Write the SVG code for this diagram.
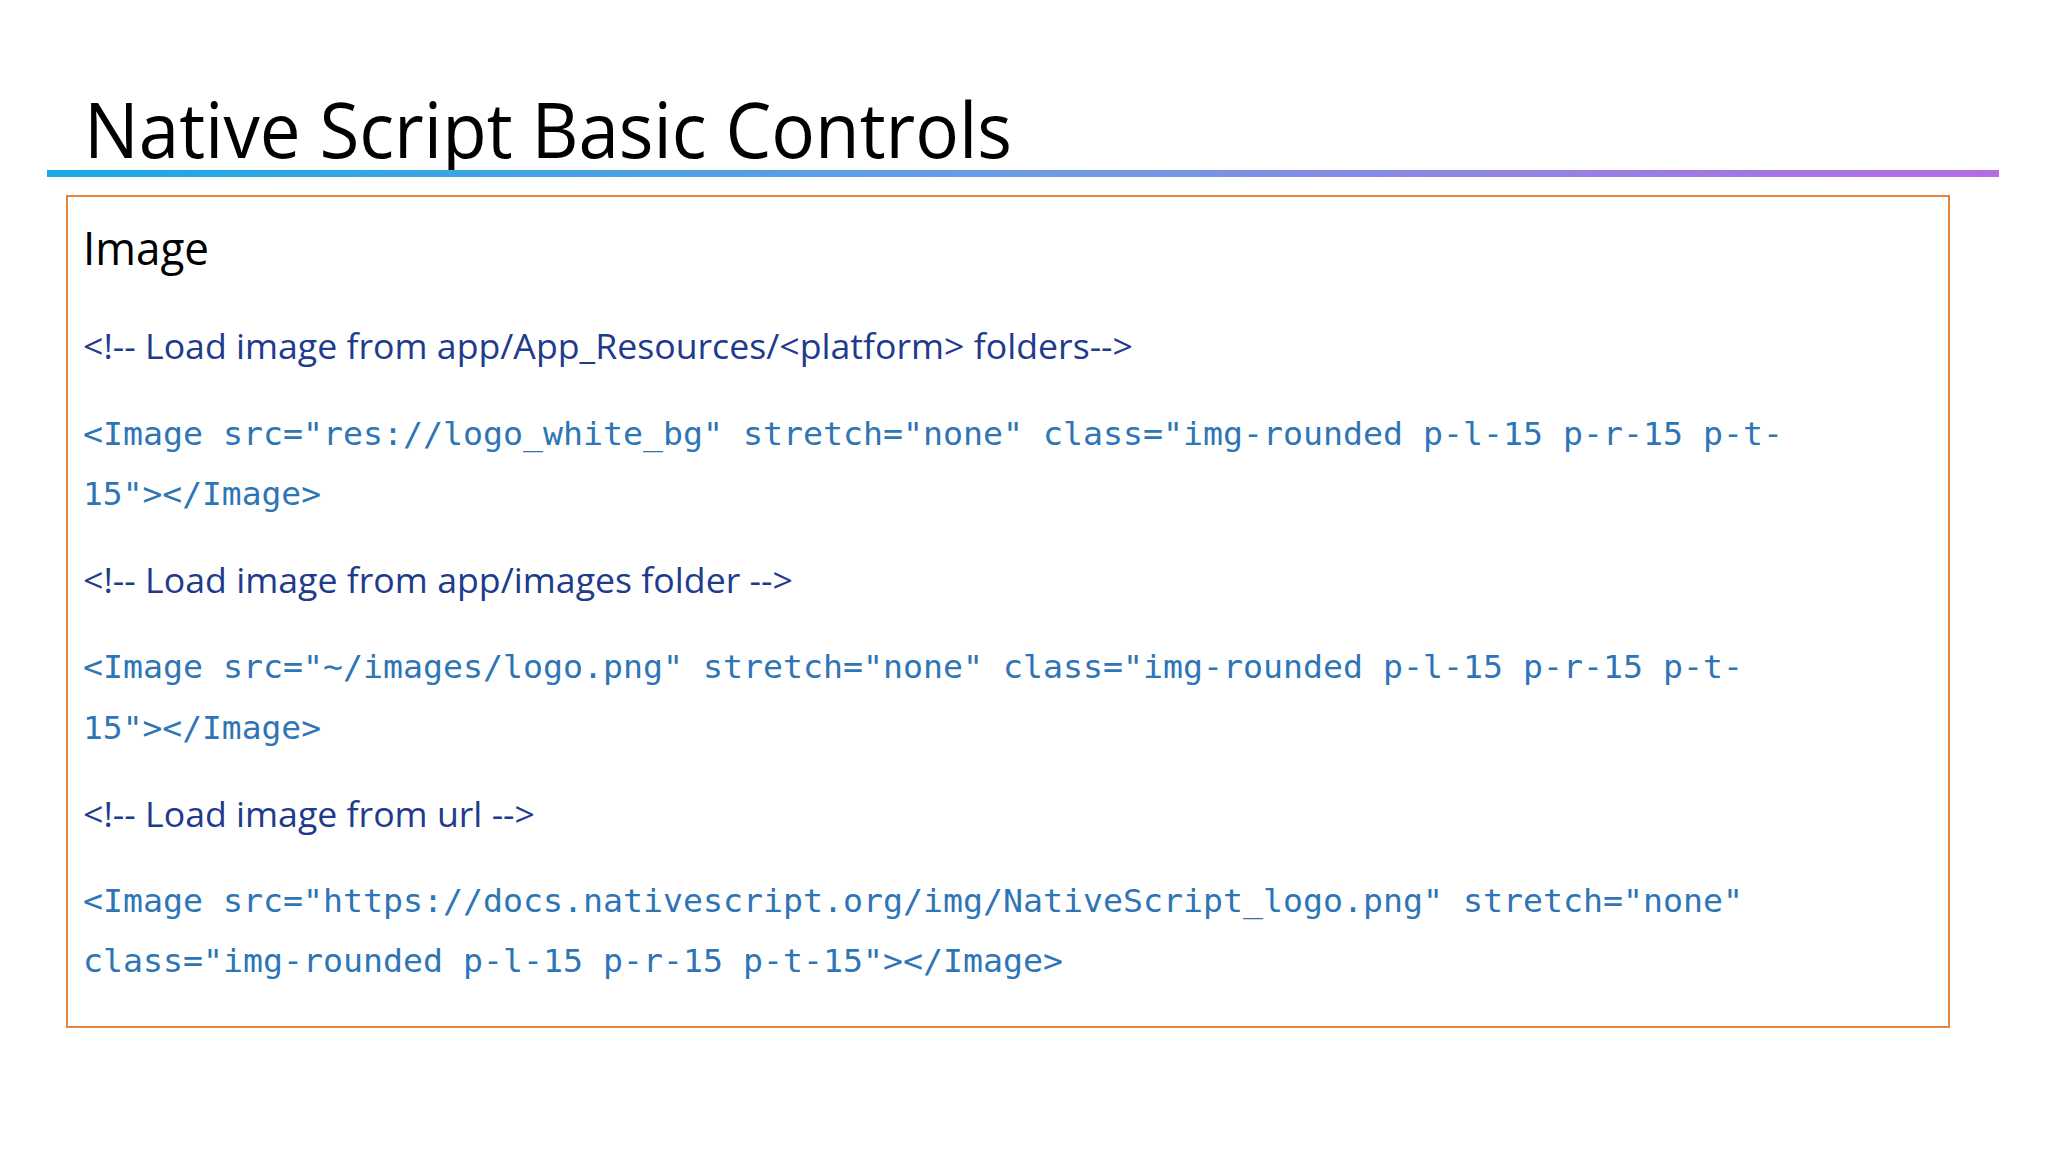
<svg xmlns="http://www.w3.org/2000/svg" width="2048" height="1152" viewBox="0 0 2048 1152">
<defs>
<linearGradient id="g" x1="0" x2="1" y1="0" y2="0">
<stop offset="0" stop-color="#1BA9E1"/><stop offset="0.5" stop-color="#6C9BE6"/><stop offset="1" stop-color="#B56CE0"/>
</linearGradient>
<style>
.t{font-family:"Open Sans","Liberation Sans",sans-serif;fill:#000}
.c{font-family:"Open Sans","Liberation Sans",sans-serif;font-size:35px;fill:#203A8C}
.m{font-family:"DejaVu Sans Mono","Liberation Mono",monospace;font-size:32px;fill:#2E75B6}
</style>
</defs>
<rect width="2048" height="1152" fill="#fff"/>
<g id="title">
<text class="t" x="84" y="158" font-size="76" textLength="928" lengthAdjust="spacingAndGlyphs">Native Script Basic Controls</text>
<rect x="47" y="170" width="1952" height="7" fill="url(#g)"/>
</g>
<g id="box">
<rect x="67" y="196" width="1882" height="831" fill="none" stroke="#E9853F" stroke-width="2"/>
<text class="t" x="83" y="265" font-size="45" textLength="126" lengthAdjust="spacingAndGlyphs">Image</text>
<text class="c" x="83" y="359" textLength="1050" lengthAdjust="spacingAndGlyphs">&lt;!-- Load image from app/App_Resources/&lt;platform&gt; folders--&gt;</text>
<text class="m" x="83" y="445" textLength="1700" lengthAdjust="spacingAndGlyphs">&lt;Image src="res://logo_white_bg" stretch="none" class="img-rounded p-l-15 p-r-15 p-t-</text>
<text class="m" x="83" y="505" textLength="238" lengthAdjust="spacingAndGlyphs">15"&gt;&lt;/Image&gt;</text>
<text class="c" x="83" y="593" textLength="710" lengthAdjust="spacingAndGlyphs">&lt;!-- Load image from app/images folder --&gt;</text>
<text class="m" x="83" y="678" textLength="1660" lengthAdjust="spacingAndGlyphs">&lt;Image src="~/images/logo.png" stretch="none" class="img-rounded p-l-15 p-r-15 p-t-</text>
<text class="m" x="83" y="739" textLength="238" lengthAdjust="spacingAndGlyphs">15"&gt;&lt;/Image&gt;</text>
<text class="c" x="83" y="827" textLength="452" lengthAdjust="spacingAndGlyphs">&lt;!-- Load image from url --&gt;</text>
<text class="m" x="83" y="912" textLength="1660" lengthAdjust="spacingAndGlyphs">&lt;Image src="https://docs.nativescript.org/img/NativeScript_logo.png" stretch="none"</text>
<text class="m" x="83" y="972" textLength="980" lengthAdjust="spacingAndGlyphs">class="img-rounded p-l-15 p-r-15 p-t-15"&gt;&lt;/Image&gt;</text>
</g>
</svg>
